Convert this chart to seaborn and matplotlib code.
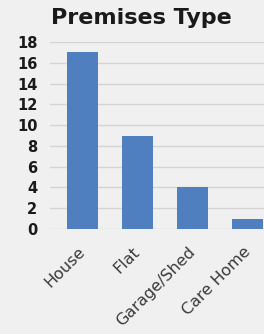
import matplotlib
matplotlib.use("Agg")
import matplotlib.pyplot as plt
import matplotlib.transforms as mtransforms
import seaborn as sns
import pandas as pd

categories = ["House", "Flat", "Garage/Shed", "Care Home"]
counts = [17, 9, 4, 1]
yticks = [0, 2, 4, 6, 8, 10, 12, 14, 16, 18]

bg = "#f0f0f0"
sns.set_theme(style="white")
plt.rcParams['font.family'] = ['DejaVu Sans']

fig = plt.figure(figsize=(2.64, 3.34), dpi=100, facecolor=bg)
W, H = 264, 334
left, right, top, bottom = 50, 275, 42, 229
ax = fig.add_axes([left / W, (H - bottom) / H, (right - left) / W, (bottom - top) / H])
ax.set_facecolor(bg)

df = pd.DataFrame({"cat": categories, "n": counts})
sns.barplot(data=df, x="cat", y="n", color="#4f7fbf", saturation=1, width=0.56,
            linewidth=0, ax=ax, zorder=3)

ax.set_ylim(0, 18)
ax.set_xlim(-0.59, 3.5)
ax.set_yticks(yticks)
ax.set_yticklabels([str(t) for t in yticks], fontsize=10.5, fontweight="bold", color="#1a1a1a")
ax.yaxis.grid(True, color="#d4d4d4", linewidth=1, zorder=0)
ax.set_axisbelow(True)
for s in ax.spines.values():
    s.set_visible(False)
ax.tick_params(axis="both", length=0)
ax.tick_params(axis="y", pad=9)
ax.set_xlabel("")
ax.set_ylabel("")
ax.set_xticks(range(len(categories)))
ax.set_xticklabels(categories, rotation=45, ha="right", rotation_mode="anchor",
                   fontsize=11.5, color="#3a3a3a")
ax.tick_params(axis="x", pad=11)
offset = mtransforms.ScaledTranslation(-5 / 100, 0, fig.dpi_scale_trans)
for lbl in ax.get_xticklabels():
    lbl.set_transform(lbl.get_transform() + offset)

fig.text(141 / W, 1 - 18 / H, "Premises Type", ha="center", va="center",
         fontsize=16, fontweight="bold", color="#1a1a1a")

fig.savefig("out.png", dpi=100, facecolor=bg)
